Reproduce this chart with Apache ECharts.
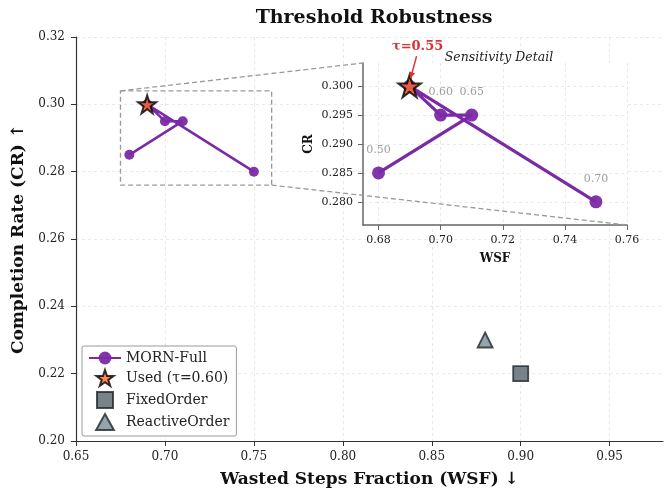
<!DOCTYPE html>
<html>
<head>
<meta charset="utf-8">
<script src="https://cdn.jsdelivr.net/npm/echarts@6/dist/echarts.min.js"></script>
<style>
  html, body { margin: 0; padding: 0; background: #fff; }
  #main { width: 671px; height: 489px; }
</style>
</head>
<body>
<div id="main"></div>
<script>
// MORN-Full sweep, in plotting order
var wsf = [0.68, 0.71, 0.70, 0.69, 0.75];
var cr = [0.285, 0.295, 0.295, 0.300, 0.280];
var tauLabels = ['0.50', '0.65', '0.60', '0.55', '0.70'];
var usedIdx = 3;
var usedPoint = [0.69, 0.30];
var fixedOrder = [0.90, 0.22];
var reactiveOrder = [0.88, 0.23];
// zoom window
var zoomX = [0.675, 0.76];
var zoomY = [0.276, 0.304];
var mainXTicks = [0.65, 0.70, 0.75, 0.80, 0.85, 0.90, 0.95];
var insetXTicks = [0.68, 0.70, 0.72, 0.74, 0.76];
var insetYTicks = [0.280, 0.285, 0.290, 0.295, 0.300];

var FONT = 'DejaVu Serif';
var PURPLE = '#7b2aa6';
var STAR = 'path://M50,0 L61.8,35.3 L99,35.3 L69,57.1 L80.4,92.7 L50,70.9 L19.6,92.7 L31,57.1 L1,35.3 L38.2,35.3 Z';
var SQUARE = 'path://M0,0 L100,0 L100,100 L0,100 Z';
var TRI = 'path://M50,0 L100,90 L0,90 Z';

var myChart = echarts.init(document.getElementById('main'));

var pts = wsf.map(function (x, i) { return [x, cr[i]]; });

var gridLine = { show: true, lineStyle: { color: '#e4e4e4', type: [3, 3], width: 0.8 } };

var option = {
    backgroundColor: '#fff',
    animation: false,
    textStyle: { fontFamily: FONT },
    title: [
        {
            text: 'Threshold Robustness',
            left: 369, top: 4, textAlign: 'center',
            textStyle: { fontFamily: FONT, fontSize: 19, fontWeight: 'bold', color: '#111' }
        },
        {
            text: 'Sensitivity Detail',
            left: 494, top: 46, textAlign: 'center',
            textStyle: { fontFamily: FONT, fontSize: 12.5, fontStyle: 'italic', fontWeight: 'normal', color: '#222' }
        }
    ],
    legend: {
        orient: 'vertical',
        left: 82, top: 346,
        itemWidth: 32, itemHeight: 16,
        itemGap: 4,
        padding: [5, 7, 5, 6],
        borderColor: '#999', borderWidth: 1, borderRadius: 2,
        backgroundColor: '#fff',
        textStyle: { fontFamily: FONT, fontSize: 14, color: '#222' },
        data: [
            { name: 'MORN-Full' },
            { name: 'Used (τ=0.60)' },
            { name: 'FixedOrder', icon: SQUARE },
            { name: 'ReactiveOrder', icon: TRI }
        ]
    },
    grid: [
        { left: 76, top: 37, right: 8, bottom: 48, outerBoundsMode: 'none' },
        { left: 363, top: 63, width: 264, height: 162, show: true, backgroundColor: '#fff', borderWidth: 0, z: 3, outerBoundsMode: 'none' }
    ],
    xAxis: [
        {
            type: 'value', gridIndex: 0, min: 0.65, max: 0.98,
            name: 'Wasted Steps Fraction (WSF) ↓', nameLocation: 'middle', nameGap: 30,
            nameTextStyle: { fontFamily: FONT, fontSize: 17, fontWeight: 'bold', color: '#111' },
            axisLine: { lineStyle: { color: '#333', width: 1.2 } },
            axisTick: { show: true, length: 5, customValues: mainXTicks, lineStyle: { color: '#333' } },
            axisLabel: { customValues: mainXTicks, fontFamily: FONT, fontSize: 12, color: '#222', margin: 10,
                formatter: function (v) { return v.toFixed(2); } },
            splitLine: gridLine
        },
        {
            type: 'value', gridIndex: 1, min: zoomX[0], max: zoomX[1], z: 4,
            name: 'WSF', nameLocation: 'middle', nameGap: 28,
            nameTextStyle: { fontFamily: FONT, fontSize: 12, fontWeight: 'bold', color: '#111' },
            axisLine: { lineStyle: { color: '#666', width: 1.5 } },
            axisTick: { show: true, length: 5, customValues: insetXTicks, lineStyle: { color: '#666' } },
            axisLabel: { customValues: insetXTicks, fontFamily: FONT, fontSize: 11, color: '#222', margin: 10,
                formatter: function (v) { return v.toFixed(2); } },
            splitLine: gridLine
        }
    ],
    yAxis: [
        {
            type: 'value', gridIndex: 0, min: 0.20, max: 0.32, interval: 0.02,
            name: 'Completion Rate (CR) ↑', nameLocation: 'middle', nameGap: 47,
            nameTextStyle: { fontFamily: FONT, fontSize: 17, fontWeight: 'bold', color: '#111' },
            axisLine: { show: true, lineStyle: { color: '#333', width: 1.2 } },
            axisTick: { show: true, length: 5, lineStyle: { color: '#333' } },
            axisLabel: { fontFamily: FONT, fontSize: 12, color: '#222', margin: 11,
                formatter: function (v) { return v.toFixed(2); } },
            splitLine: gridLine
        },
        {
            type: 'value', gridIndex: 1, min: zoomY[0], max: zoomY[1], z: 4,
            name: 'CR', nameLocation: 'middle', nameGap: 48,
            nameTextStyle: { fontFamily: FONT, fontSize: 12, fontWeight: 'bold', color: '#111' },
            axisLine: { show: true, lineStyle: { color: '#666', width: 1.5 } },
            axisTick: { show: true, length: 5, customValues: insetYTicks, lineStyle: { color: '#666' } },
            axisLabel: { customValues: insetYTicks, fontFamily: FONT, fontSize: 11, color: '#222', margin: 10,
                formatter: function (v) { return v.toFixed(3); } },
            splitLine: gridLine
        }
    ],
    series: [
        {
            name: 'MORN-Full', type: 'line', xAxisIndex: 0, yAxisIndex: 0,
            data: pts, symbol: 'circle', symbolSize: 10,
            lineStyle: { color: PURPLE, width: 2.5 },
            itemStyle: { color: PURPLE, opacity: 0.95 },
            z: 3
        },
        {
            name: 'Used (τ=0.60)', type: 'scatter', xAxisIndex: 0, yAxisIndex: 0,
            data: [usedPoint], symbol: STAR, symbolSize: 18,
            itemStyle: { color: '#ff6a2b', borderColor: '#000', borderWidth: 2 },
            z: 4
        },
        {
            name: 'FixedOrder', type: 'scatter', xAxisIndex: 0, yAxisIndex: 0,
            data: [fixedOrder], symbol: 'rect', symbolSize: 15,
            itemStyle: { color: '#56646c', borderColor: '#1e272c', borderWidth: 1.8 }
        },
        {
            name: 'ReactiveOrder', type: 'scatter', xAxisIndex: 0, yAxisIndex: 0,
            data: [reactiveOrder], symbol: 'triangle', symbolSize: 15,
            itemStyle: { color: '#7a8c96', borderColor: '#1e272c', borderWidth: 1.8 }
        },
        {
            // zoom window outline
            name: 'box', type: 'line', xAxisIndex: 0, yAxisIndex: 0, silent: true,
            data: [[zoomX[0], zoomY[1]], [zoomX[1], zoomY[1]], [zoomX[1], zoomY[0]], [zoomX[0], zoomY[0]], [zoomX[0], zoomY[1]]],
            symbol: 'none', lineStyle: { color: '#999', width: 1.3, type: [5, 3] }, z: 2
        },
        {
            name: 'MORN-Full', type: 'line', xAxisIndex: 1, yAxisIndex: 1,
            data: pts, symbol: 'circle', symbolSize: 13,
            lineStyle: { color: PURPLE, width: 3.2 },
            itemStyle: { color: PURPLE, opacity: 0.95 },
            label: {
                show: true, position: 'top', distance: 11,
                fontFamily: FONT, fontSize: 11, color: '#999',
                formatter: function (p) { return p.dataIndex === usedIdx ? '' : tauLabels[p.dataIndex]; }
            },
            z: 5
        },
        {
            name: 'Used (τ=0.60)', type: 'scatter', xAxisIndex: 1, yAxisIndex: 1,
            data: [usedPoint], symbol: STAR, symbolSize: 22,
            itemStyle: { color: '#ff6a2b', borderColor: '#000', borderWidth: 2.2 },
            z: 6
        }
    ]
};

myChart.setOption(option);

// connectors + annotation, placed through the axes' own scales
function px(g, v) { return myChart.convertToPixel({ gridIndex: g }, v); }
var a1 = px(0, [zoomX[0], zoomY[1]]), b1 = px(1, [zoomX[0], zoomY[1]]);
var a2 = px(0, [zoomX[1], zoomY[0]]), b2 = px(1, [zoomX[1], zoomY[0]]);
var s = px(1, usedPoint);
var tip = [s[0] + 1, s[1] - 8], tail = [s[0] + 7, s[1] - 30];
var ang = Math.atan2(tip[1] - tail[1], tip[0] - tail[0]);
var hl = 6, hw = 3;
var head = [
    tip,
    [tip[0] - hl * Math.cos(ang) + hw * Math.sin(ang), tip[1] - hl * Math.sin(ang) - hw * Math.cos(ang)],
    [tip[0] - hl * Math.cos(ang) - hw * Math.sin(ang), tip[1] - hl * Math.sin(ang) + hw * Math.cos(ang)]
];
var dash = { stroke: '#999', lineWidth: 1.3, lineDash: [5, 3] };
myChart.setOption({
    graphic: [
        { type: 'line', z: 10, shape: { x1: a1[0], y1: a1[1], x2: b1[0], y2: b1[1] }, style: dash },
        { type: 'line', z: 10, shape: { x1: a2[0], y1: a2[1], x2: b2[0], y2: b2[1] }, style: dash },
        { type: 'line', z: 11, shape: { x1: tail[0], y1: tail[1], x2: tip[0], y2: tip[1] }, style: { stroke: '#e03030', lineWidth: 1.5 } },
        { type: 'polygon', z: 11, shape: { points: head }, style: { fill: '#e03030' } },
        {
            type: 'text', z: 11, x: s[0] + 8, y: s[1] - 40,
            style: { text: 'τ=' + tauLabels[usedIdx], fill: '#e03030', font: 'bold 13px "DejaVu Serif"', align: 'center', verticalAlign: 'middle' }
        }
    ]
});

window.onresize = function () { myChart.resize(); };
</script>
</body>
</html>
